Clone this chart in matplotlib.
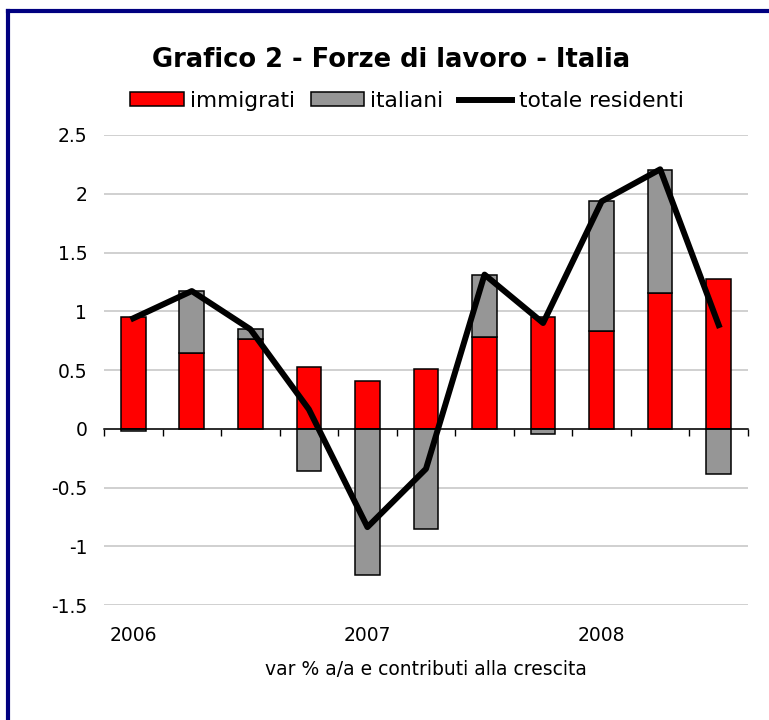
import matplotlib.pyplot as plt
from matplotlib.patches import Patch
from matplotlib.lines import Line2D
import numpy as np

# quarterly data 2006 Q1 - 2008 Q3
anni = ["2006", "2007", "2008"]
immigrati = [0.95, 0.644, 0.763, 0.525, 0.407, 0.511, 0.78, 0.949, 0.833, 1.153, 1.271]
italiani = [-0.02, 0.528, 0.084, -0.36, -1.244, -0.852, 0.528, -0.048, 1.102, 1.053, -0.389]
totale = [0.94, 1.172, 0.847, 0.165, -0.837, -0.341, 1.312, 0.90, 1.935, 2.208, 0.882]

x = np.arange(len(immigrati))
ita_bottom = [im if it > 0 else 0 for im, it in zip(immigrati, italiani)]

fig = plt.figure(figsize=(7.69, 7.20), dpi=100)
ax = fig.add_axes([0.1352, 0.1597, 0.8375, 0.6528])

w = 0.42
ax.bar(x, immigrati, w, color="#ff0000", edgecolor="black", linewidth=1.1, zorder=2)
ax.bar(x, italiani, w, bottom=ita_bottom, color="#969696", edgecolor="black", linewidth=1.1, zorder=2)
ax.plot(x, totale, color="black", linewidth=4.3, zorder=3)

ax.set_xlim(-0.5, len(x) - 0.5)
ax.set_ylim(-1.5, 2.5)
ax.set_yticks([-1.5, -1, -0.5, 0, 0.5, 1, 1.5, 2, 2.5])
ax.set_yticklabels(["-1.5", "-1", "-0.5", "0", "0.5", "1", "1.5", "2", "2.5"])
ax.yaxis.grid(True, color="#c8c8c8", linewidth=1.2, zorder=0)
ax.tick_params(axis="y", length=0, labelsize=13.5, pad=12)

for s in ["left", "right", "top"]:
    ax.spines[s].set_visible(False)
# category axis crosses at zero
ax.spines["bottom"].set_position(("data", 0))
ax.spines["bottom"].set_linewidth(1.1)
ax.spines["bottom"].set_zorder(4)

ax.set_xticks([])
ax.set_xticks(np.arange(-0.5, len(x)), minor=True)
ax.tick_params(axis="x", which="minor", length=5, width=1, direction="out")
for xi, lab in zip([0, 4, 8], anni):
    ax.text(xi, -1.76, lab, ha="center", va="center", fontsize=13.5)
ax.text(5, -2.05, "var % a/a e contributi alla crescita", ha="center", va="center", fontsize=13.5)

fig.text(391 / 769, 1 - 60 / 720, "Grafico 2 - Forze di lavoro - Italia",
         ha="center", va="center", fontsize=18.5, fontweight="bold")

handles = [Patch(facecolor="#ff0000", edgecolor="black", linewidth=1.1),
           Patch(facecolor="#969696", edgecolor="black", linewidth=1.1),
           Line2D([0], [0], color="black", linewidth=4.3)]
fig.legend(handles, ["immigrati", "italiani", "totale residenti"], ncol=3,
           loc="center", bbox_to_anchor=(407 / 769, 1 - 101 / 720), frameon=False,
           fontsize=15.7, handlelength=2.45, handleheight=0.6, handletextpad=0.3,
           columnspacing=0.7)

# dark blue frame (only left and top visible)
fig.add_artist(Line2D([8 / 769, 8 / 769], [0, 1 - 11 / 720], color="#000080", linewidth=3))
fig.add_artist(Line2D([8 / 769, 1], [1 - 11 / 720, 1 - 11 / 720], color="#000080", linewidth=3))

fig.savefig("out.png", dpi=100)
